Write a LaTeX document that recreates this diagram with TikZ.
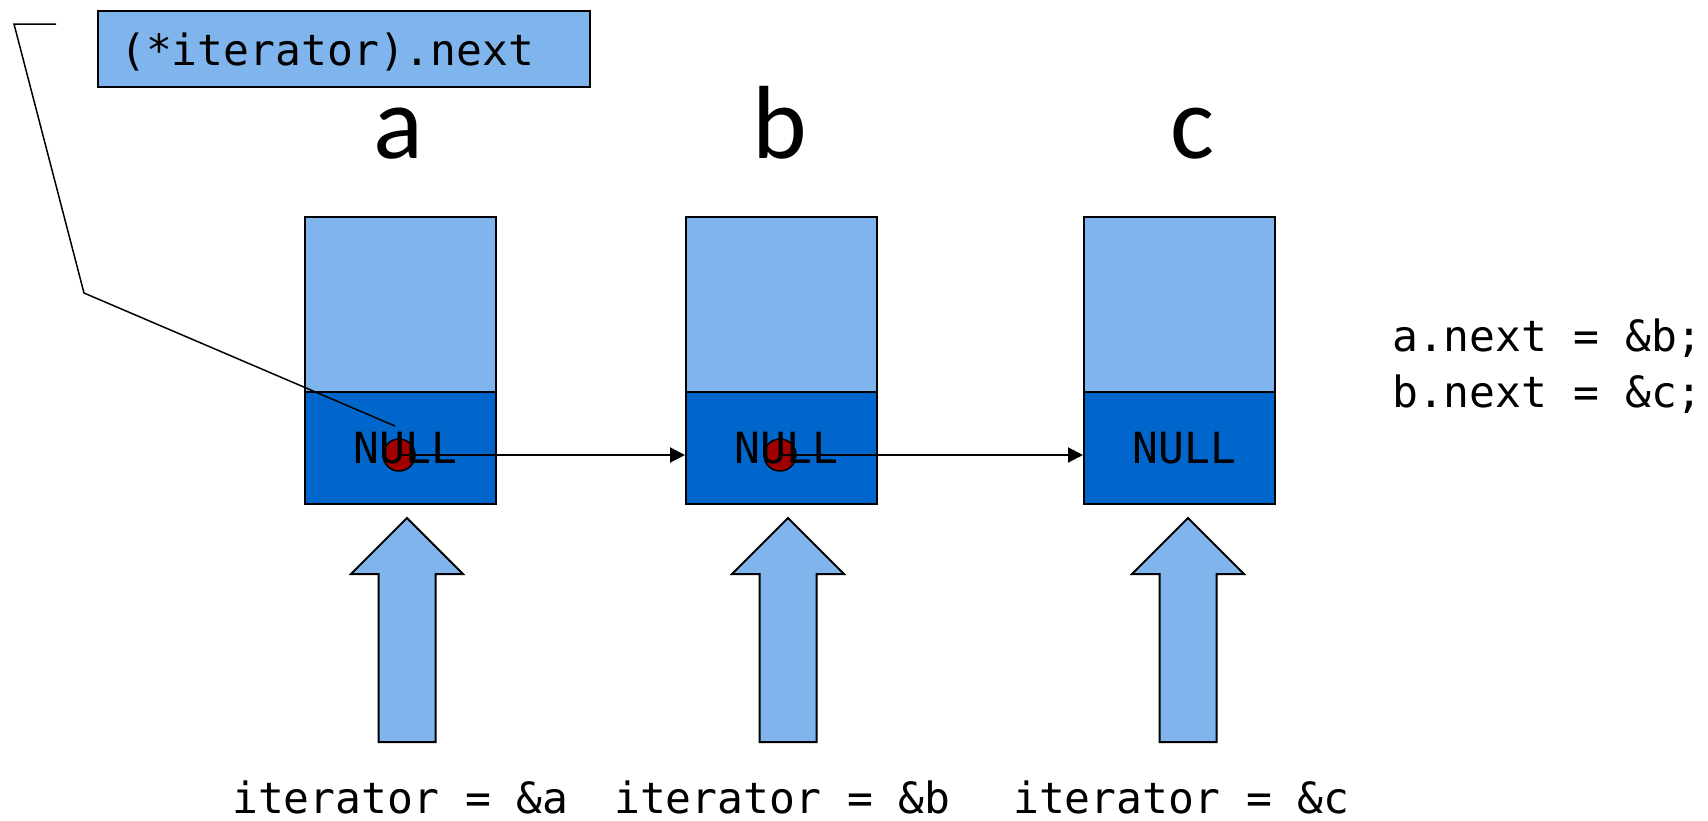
\documentclass[tikz,border=0pt]{standalone}
\usepackage{fontspec}
\setmonofont{DejaVu Sans Mono}
\newfontfamily\letterfont{Carlito}
\usetikzlibrary{arrows.meta}

\definecolor{cellLight}{RGB}{127,180,236}
\definecolor{cellDark}{RGB}{0,102,204}
\definecolor{dotRed}{RGB}{160,0,0}

\tikzset{
  cellbox/.style={draw=black, line width=2pt, inner sep=0pt, minimum width=191pt},
  datapart/.style={cellbox, fill=cellLight, minimum height=175pt},
  nextpart/.style={cellbox, fill=cellDark, minimum height=112pt},
  codetext/.style={font=\ttfamily\fontsize{43}{50}\selectfont, inner sep=0pt, anchor=base west},
  nulltext/.style={font=\ttfamily\fontsize{43}{50}\selectfont, inner sep=0pt},
  varname/.style={font=\letterfont\fontsize{104}{120}\selectfont, inner sep=0pt, anchor=base},
  ptrdot/.style={circle, draw=black, line width=1.5pt, fill=dotRed, minimum size=32pt, inner sep=0pt},
  link/.style={draw=black, line width=2pt, -{Triangle[length=15pt,width=15pt]}},
  callout/.style={draw=black, line width=1.5pt},
  iterarrow/.pic={
    \draw[fill=cellLight, line width=2pt, line join=miter]
      (0,0) -- (56,56) -- (28.5,56) -- (28.5,224) -- (-28.5,224) -- (-28.5,56) -- (-56,56) -- cycle;
  }
}

\begin{document}
\begin{tikzpicture}[x=1pt, y=-1pt]
  \useasboundingbox (0,0) rectangle (1708,820);

  % variable names
  \node[varname] (na) at (398,158) {a};
  \node[varname] (nb) at (780,158) {b};
  \node[varname] (nc) at (1192,158) {c};

  % struct cells: data part on top, next pointer below
  \node[datapart, anchor=north west] (adata) at (304,216) {};
  \node[nextpart, anchor=north west] (anext) at (304,391) {};
  \node[datapart, anchor=north west] (bdata) at (685,216) {};
  \node[nextpart, anchor=north west] (bnext) at (685,391) {};
  \node[datapart, anchor=north west] (cdata) at (1083,216) {};
  \node[nextpart, anchor=north west] (cnext) at (1083,391) {};

  % pointer dots in the next fields
  \node[ptrdot] (adot) at (399,455) {};
  \node[ptrdot] (bdot) at (780,455) {};

  % NULL labels
  \node[nulltext] (anull) at ([xshift=5pt]anext.center) {NULL};
  \node[nulltext] (bnull) at ([xshift=5pt]bnext.center) {NULL};
  \node[nulltext] (cnull) at ([xshift=5pt]cnext.center) {NULL};

  % links between cells
  \draw[link] (adot.center) -- (adot.center -| bnext.west);
  \draw[link] (bdot.center) -- (bdot.center -| cnext.west);

  % callout box with its leader line
  \node[draw=black, line width=1.5pt, fill=cellLight, minimum width=492pt, minimum height=76pt,
        inner sep=0pt, anchor=north west] (lbl) at (97,10) {};
  \node[codetext] (lbltext) at (120,65) {(*iterator).next};
  \coordinate (c0) at (56,24);
  \coordinate (c1) at (14,24);
  \coordinate (c2) at (84,293);
  \coordinate (c3) at (395,426);
  \draw[callout] (c0) -- (c1) -- (c2) -- (c3);

  % code on the right
  \node[codetext] (code1) at (1392,351) {a.next = \&b;};
  \node[codetext] (code2) at (1392,407) {b.next = \&c;};

  % iterator arrows
  \pic at (407,518) {iterarrow};
  \pic at (788,518) {iterarrow};
  \pic at (1188,518) {iterarrow};

  % iterator labels
  \node[codetext] (ita) at (232,813) {iterator = \&a};
  \node[codetext] (itb) at (614,813) {iterator = \&b};
  \node[codetext] (itc) at (1013,813) {iterator = \&c};
\end{tikzpicture}
\end{document}
